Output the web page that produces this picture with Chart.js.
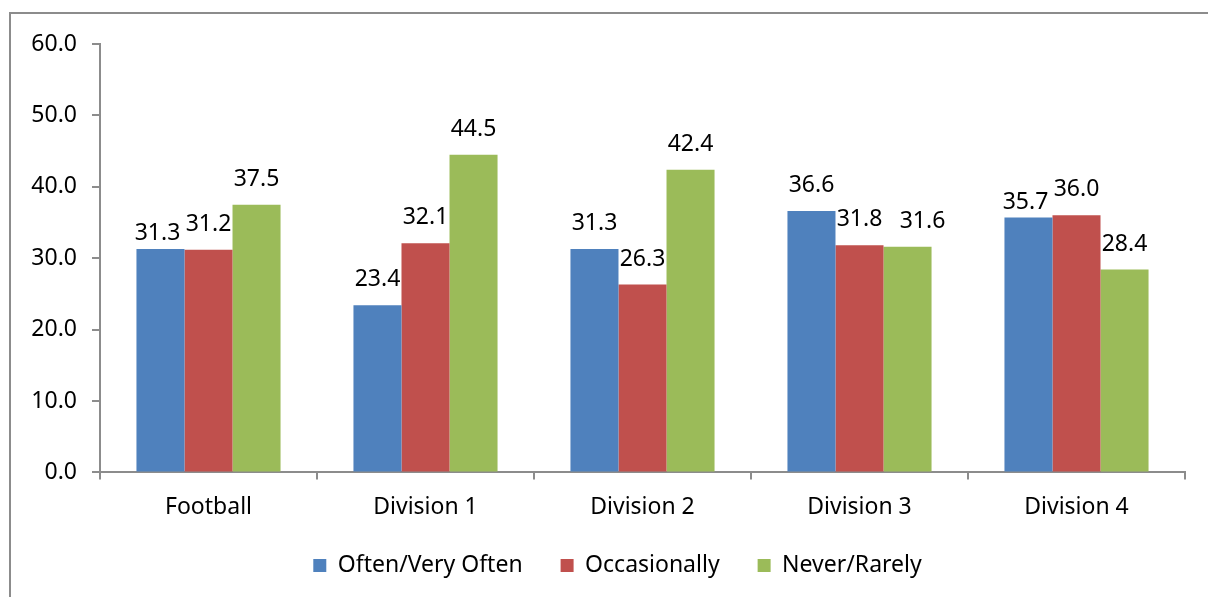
<!DOCTYPE html>
<html>
<head>
<meta charset="utf-8">
<script src="https://cdn.jsdelivr.net/npm/chart.js@4/dist/chart.umd.min.js"></script>
<style>
  html, body { margin: 0; padding: 0; background: #fff; overflow: hidden; }
  #wrap { position: relative; width: 1208px; height: 597px; }
  #frame { position: absolute; left: 9px; top: 12px; width: 1220px; height: 620px; border: 2px solid #8c8c8c; box-sizing: border-box; }
  #chartBox { position: absolute; left: 0; top: 0; width: 1208px; height: 597px; }
</style>
</head>
<body>
<div id="wrap">
  <div id="frame"></div>
  <div id="chartBox"><canvas id="myChart"></canvas></div>
</div>
<script>
// dati
const categories = ['Football', 'Division 1', 'Division 2', 'Division 3', 'Division 4'];
const oftenValues = [31.3, 23.4, 31.3, 36.6, 35.7];
const occasionallyValues = [31.2, 32.1, 26.3, 31.8, 36.0];
const neverValues = [37.5, 44.5, 42.4, 31.6, 28.4];
const seriesNames = ['Often/Very Often', 'Occasionally', 'Never/Rarely'];

const FONT = '"Noto Sans", sans-serif';
const FSIZE = 23;

// etichette sopra le barre (con piccolo spostamento se si toccano, come Excel)
const valueLabels = {
    id: 'valueLabels',
    afterDatasetsDraw(chart) {
        const ctx = chart.ctx;
        ctx.save();
        ctx.font = FSIZE + 'px ' + FONT;
        ctx.fillStyle = '#000';
        ctx.textAlign = 'center';
        ctx.textBaseline = 'alphabetic';
        const n = chart.data.datasets.length;
        chart.data.labels.forEach((_, j) => {
            const items = chart.data.datasets.map((ds, i) => {
                const bar = chart.getDatasetMeta(i).data[j];
                const text = ds.data[j].toFixed(1);
                return { text, x: bar.x, y: bar.y - 19, w: ctx.measureText(text).width };
            });
            for (let i = 0; i < n - 1; i++) {
                const a = items[i], b = items[i + 1];
                const gap = (b.x - b.w / 2) - (a.x + a.w / 2);
                if (gap < 6 && Math.abs(a.y - b.y) < 16) {
                    if (i + 1 < n - 1) { a.y += 10; a.x -= 3; }
                    else { b.x += 15; }
                }
            }
            items.forEach(it => ctx.fillText(it.text, it.x, it.y));
        });
        ctx.restore();
    }
};

// legenda: spazio largo tra le voci ma altezza ridotta
const legendShift = {
    id: 'legendShift',
    beforeInit(chart) {
        const lg = chart.legend;
        if (!lg) return;
        const fit = lg.fit, draw = lg.draw;
        lg.fit = function () { fit.call(this); this.height -= 19; };
        lg.draw = function () {
            const t = this.top, l = this.left, r = this.right;
            this.top -= 19;
            this.left += 25;
            this.right += 25;
            draw.call(this);
            this.top = t; this.left = l; this.right = r;
        };
    }
};

const ctx = document.getElementById('myChart').getContext('2d');
new Chart(ctx, {
    type: 'bar',
    data: {
        labels: categories,
        datasets: [
            { label: seriesNames[0], data: oftenValues, backgroundColor: '#4F81BD' },
            { label: seriesNames[1], data: occasionallyValues, backgroundColor: '#C0504D' },
            { label: seriesNames[2], data: neverValues, backgroundColor: '#9BBB59' }
        ]
    },
    options: {
        animation: false,
        responsive: true,
        maintainAspectRatio: false,
        devicePixelRatio: 1,
        layout: { padding: { top: 44, right: 23, left: 0, bottom: 10 } },
        datasets: {
            bar: { barPercentage: 1, categoryPercentage: 0.664, borderWidth: 0 }
        },
        scales: {
            x: {
                grid: { display: true, drawOnChartArea: false, tickLength: 7, color: '#8c8c8c', lineWidth: 2 },
                border: { display: true, color: '#8c8c8c', width: 2 },
                ticks: { color: '#000', font: { family: FONT, size: FSIZE }, padding: 14 }
            },
            y: {
                min: 0,
                max: 60,
                afterFit(scale) { scale.width = 100; },
                grid: { display: true, drawOnChartArea: false, tickLength: 8, color: '#8c8c8c', lineWidth: 2 },
                border: { display: true, color: '#8c8c8c', width: 2 },
                ticks: {
                    stepSize: 10,
                    color: '#000',
                    font: { family: FONT, size: FSIZE },
                    padding: 15,
                    callback: v => v.toFixed(1)
                }
            }
        },
        plugins: {
            legend: {
                position: 'bottom',
                labels: {
                    color: '#000',
                    font: { family: FONT, size: FSIZE },
                    boxWidth: 13,
                    boxHeight: 13,
                    padding: 38
                }
            },
            tooltip: { enabled: false }
        }
    },
    plugins: [valueLabels, legendShift]
});
</script>
</body>
</html>
